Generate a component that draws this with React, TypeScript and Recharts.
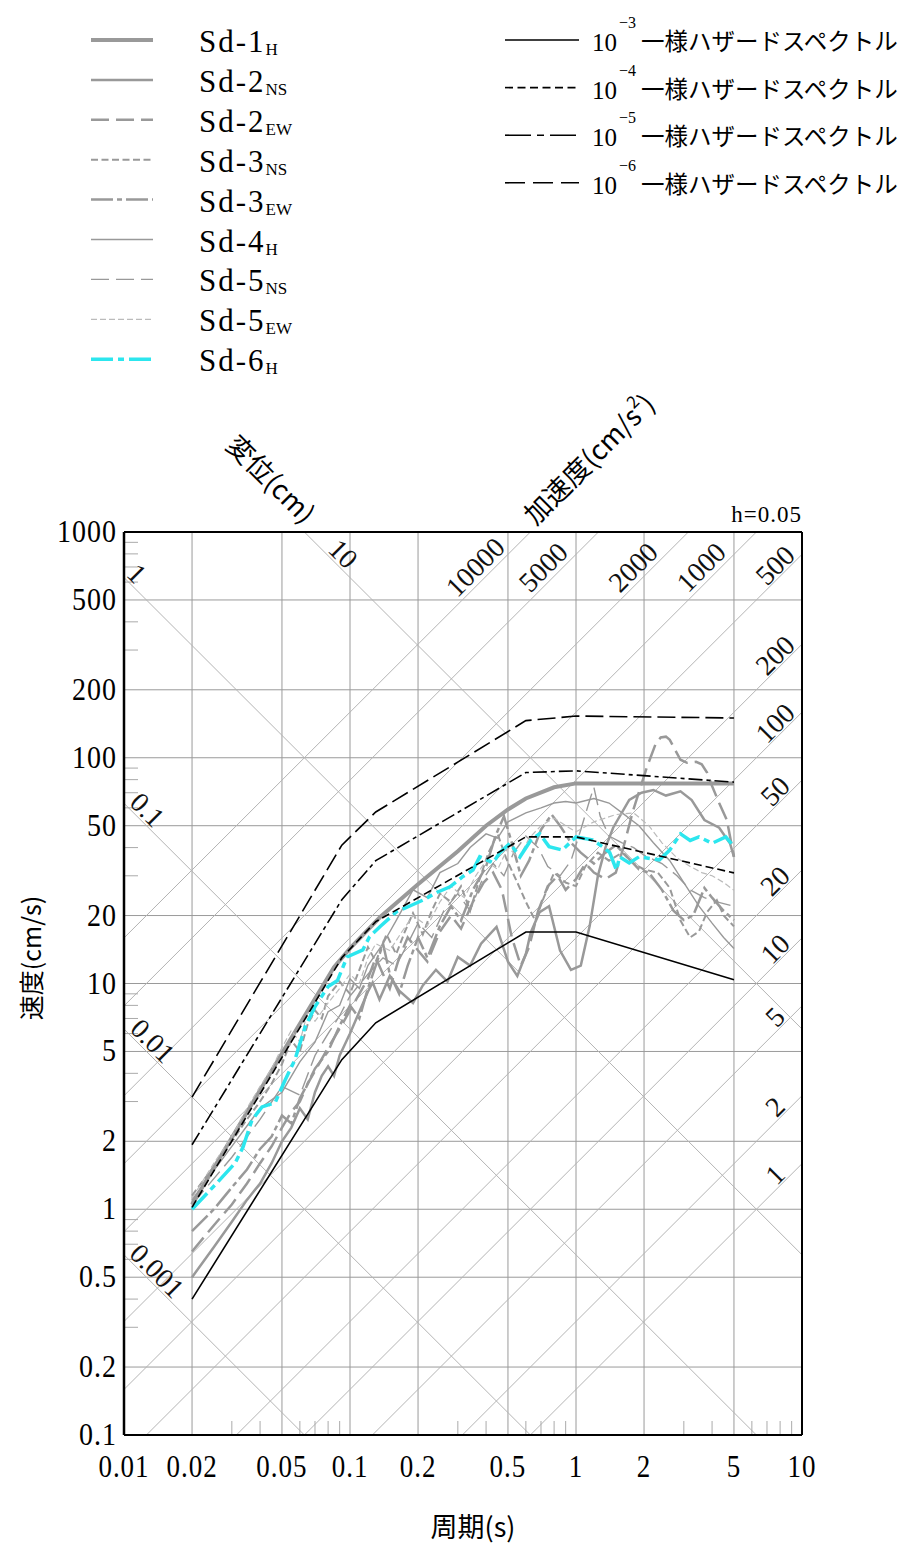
import React from 'react';
import { LineChart, Line, XAxis, YAxis, CartesianGrid, ReferenceLine, ReferenceDot, Legend } from 'recharts';

const W = 907;
const H = 1544;
const SERIF = '"Liberation Serif", "DejaVu Serif", serif';
const JP = '"Noto Sans CJK JP", sans-serif';
const TWO_PI = 2 * Math.PI;

// axes
const xTicks = [0.01, 0.02, 0.05, 0.1, 0.2, 0.5, 1, 2, 5, 10];
const yTicks = [0.1, 0.2, 0.5, 1, 2, 5, 10, 20, 50, 100, 200, 500, 1000];
const minorMantissa = [3, 4, 6, 7, 8, 9];
const xMinorDecades = [0.01, 0.1, 1];
const yMinorDecades = [0.1, 1, 10, 100];

// tripartite lines
const accelLines = [1, 2, 5, 10, 20, 50, 100, 200, 500, 1000, 2000, 5000, 10000];
const dispLines = [0.001, 0.01, 0.1, 1, 10];
const accelTopLabels = [10000, 5000, 2000, 1000];
const accelRightLabels = [500, 200, 100, 50, 20, 10, 5, 2, 1];
const dispLabelAt: [number, number][] = [[10, 0.0934], [1, 0.0114], [0.1, 0.0127], [0.01, 0.0134], [0.001, 0.014]];

// uniform hazard spectra
const uhsPeriods = [0.02, 0.092, 0.13, 0.6, 1.0, 5.0];
const uhs1e3 = [0.4, 4.6, 6.7, 16.9, 16.9, 10.4];
const uhs1e4 = [1.02, 13, 18.8, 44.6, 44.6, 30.9];
const uhs1e5 = [1.93, 23.5, 35, 86, 87.5, 78];
const uhs1e6 = [3.14, 41, 57.5, 146, 153, 150];

// Sd spectra  [period (s), velocity (cm/s)]
const sd1H: [number, number][] = [
  [0.02, 1.05], [0.05, 4.9], [0.085, 11.8], [0.1, 14.3], [0.136, 19.7], [0.2, 27.5], [0.3, 38.5],
  [0.4, 50], [0.5, 59], [0.6, 66], [0.8, 74], [1.0, 77], [2, 77], [5, 77],
];
const sd2NS: [number, number][] = [
  [0.02, 0.5], [0.025, 0.68], [0.03, 0.88], [0.035, 1.1], [0.04, 1.3], [0.045, 1.6], [0.05, 2.0],
  [0.055, 2.3], [0.06, 2.8], [0.065, 2.5], [0.07, 3.3], [0.075, 3.9], [0.08, 4.3], [0.085, 3.9],
  [0.09, 4.8], [0.1, 6.0], [0.11, 7.5], [0.12, 9.2], [0.126, 10.1], [0.135, 8.5], [0.15, 10.8],
  [0.165, 9.3], [0.19, 8.2], [0.21, 9.8], [0.24, 11.5], [0.27, 10.2], [0.3, 13.1], [0.34, 12.0],
  [0.38, 15.0], [0.445, 17.8], [0.5, 12.5], [0.55, 10.8], [0.6, 13.5], [0.63, 16.8], [0.69, 20.7],
  [0.76, 22], [0.85, 14], [0.95, 11.5], [1.05, 12], [1.15, 18], [1.25, 30], [1.35, 40],
  [1.46, 49], [1.72, 65], [1.95, 70], [2.2, 72], [2.5, 68], [2.9, 71], [3.25, 65], [3.7, 53],
  [4.3, 49], [4.8, 41.8], [5, 36.4],
];
const sd2EW: [number, number][] = [
  [0.02, 0.65], [0.025, 0.85], [0.03, 1.05], [0.035, 1.3], [0.04, 1.6], [0.045, 1.9], [0.05, 2.3],
  [0.055, 2.7], [0.06, 3.0], [0.065, 3.6], [0.07, 4.1], [0.08, 5.2], [0.09, 6.3], [0.1, 7.6],
  [0.11, 9], [0.12, 10.5], [0.13, 13], [0.14, 11], [0.15, 9.5], [0.165, 13], [0.18, 16], [0.2, 14],
  [0.22, 12.5], [0.25, 17], [0.28, 20], [0.31, 17.5], [0.35, 23], [0.39, 28], [0.43, 31], [0.47, 26],
  [0.52, 16], [0.57, 12], [0.62, 14.5], [0.68, 21], [0.75, 27], [0.83, 30], [0.9, 26], [1.0, 29],
  [1.1, 34], [1.2, 31], [1.35, 29], [1.5, 31], [1.62, 40], [1.79, 58.5], [2.06, 91], [2.25, 115],
  [2.37, 123], [2.5, 124], [2.6, 120], [2.75, 108], [2.9, 98], [3.1, 95], [3.4, 96], [3.6, 93.5],
  [3.8, 86], [4.0, 75], [4.3, 63], [4.65, 53], [5, 36.4],
];
const sd3NS: [number, number][] = [
  [0.02, 1.15], [0.025, 1.55], [0.03, 2.0], [0.035, 2.5], [0.04, 3.0], [0.045, 3.6], [0.05, 4.4],
  [0.055, 5.6], [0.06, 5.0], [0.065, 6.6], [0.07, 7.6], [0.075, 7.0], [0.08, 8.8], [0.09, 10.2],
  [0.1, 9.0], [0.11, 11.5], [0.12, 14.5], [0.13, 12.5], [0.145, 16.5], [0.16, 13.5], [0.175, 17],
  [0.19, 20.5], [0.21, 16.5], [0.23, 21], [0.25, 25], [0.28, 23], [0.31, 27], [0.34, 21], [0.37, 28],
  [0.41, 38], [0.45, 46], [0.49, 36], [0.55, 28], [0.6, 23], [0.66, 19], [0.72, 24], [0.8, 31],
  [0.9, 28], [1.0, 27], [1.1, 33], [1.25, 38], [1.4, 35], [1.6, 38], [1.8, 34], [2.0, 32], [2.3, 31],
  [2.6, 26.5], [2.9, 19], [3.2, 16], [3.5, 17], [3.8, 20.7], [4.2, 23.4], [4.5, 20], [5, 17.9],
];
const sd3EW: [number, number][] = [
  [0.02, 0.8], [0.025, 1.0], [0.03, 1.25], [0.035, 1.5], [0.04, 1.85], [0.045, 2.1], [0.05, 2.6],
  [0.055, 2.4], [0.06, 3.1], [0.065, 3.6], [0.07, 4.2], [0.08, 5.0], [0.09, 6.5], [0.1, 8],
  [0.11, 7], [0.12, 9.5], [0.13, 12], [0.14, 15], [0.15, 11], [0.165, 9], [0.18, 12], [0.2, 16],
  [0.22, 13], [0.25, 18], [0.28, 22], [0.31, 19], [0.35, 26], [0.4, 33], [0.44, 45], [0.48, 55],
  [0.52, 42], [0.57, 30], [0.62, 35], [0.7, 48], [0.78, 56], [0.85, 50], [0.95, 42], [1.05, 38],
  [1.2, 34], [1.35, 38], [1.5, 41], [1.7, 36], [1.9, 32], [2.1, 31], [2.4, 26], [2.7, 21], [3.0, 19.1],
  [3.3, 20], [3.7, 26.5], [4.0, 24], [4.5, 21], [5, 19.1],
];
const sd4H: [number, number][] = [
  [0.02, 1.1], [0.03, 1.9], [0.04, 2.8], [0.05, 3.3], [0.06, 4.5], [0.07, 5.5], [0.08, 7.5],
  [0.09, 8], [0.1, 10.5], [0.11, 9.5], [0.12, 12], [0.14, 15], [0.16, 19], [0.19, 26], [0.22, 24],
  [0.25, 31], [0.3, 34], [0.34, 40], [0.4, 46], [0.45, 44], [0.5, 52], [0.6, 57], [0.7, 60],
  [0.8, 63], [0.9, 64], [1.0, 63], [1.2, 66], [1.4, 63], [1.6, 57], [1.9, 50], [2.2, 42], [2.6, 35],
  [3.0, 28], [3.5, 22], [4.0, 18.5], [4.5, 16], [5, 14.3],
];
const sd5NS: [number, number][] = [
  [0.02, 1.05], [0.03, 1.7], [0.04, 2.5], [0.05, 3.5], [0.06, 3.2], [0.07, 4.8], [0.08, 6],
  [0.09, 7.2], [0.1, 8.8], [0.12, 11], [0.14, 13], [0.16, 12], [0.18, 15], [0.2, 18.5], [0.23, 16],
  [0.26, 21], [0.3, 25], [0.34, 21], [0.38, 28], [0.43, 34], [0.48, 30], [0.53, 38], [0.6, 45],
  [0.68, 40], [0.75, 33], [0.85, 30], [0.95, 35], [1.05, 48], [1.15, 65], [1.2, 74], [1.28, 55],
  [1.4, 45], [1.6, 42], [1.8, 40], [2.0, 37], [2.4, 34], [2.8, 30], [3.2, 26], [3.7, 24], [4.2, 23],
  [5, 22],
];
const sd5EW: [number, number][] = [
  [0.02, 1.12], [0.025, 1.6], [0.03, 2.1], [0.035, 2.8], [0.04, 3.5], [0.045, 4.2], [0.05, 5.2],
  [0.055, 6.2], [0.06, 5.5], [0.065, 7.5], [0.07, 6.8], [0.08, 8.2], [0.09, 9.5], [0.1, 11],
  [0.11, 10], [0.12, 13], [0.13, 15], [0.15, 14], [0.17, 17], [0.19, 20], [0.22, 18], [0.25, 23],
  [0.28, 27], [0.32, 24], [0.36, 30], [0.4, 35], [0.45, 32], [0.5, 40], [0.56, 36], [0.62, 44],
  [0.7, 50], [0.8, 54], [0.9, 50], [1.0, 47], [1.2, 52], [1.5, 56], [1.8, 57], [2.1, 50], [2.4, 42],
  [2.8, 36], [3.2, 33], [3.6, 31], [4.0, 30], [4.5, 28], [5, 25.9],
];
const sd6H: [number, number][] = [
  [0.02, 1.0], [0.026, 1.32], [0.031, 1.6], [0.0336, 1.88], [0.0368, 2.48], [0.0408, 2.84],
  [0.0466, 2.96], [0.0516, 3.73], [0.057, 4.58], [0.0632, 6.4], [0.07, 7.9], [0.08, 9.7],
  [0.088, 10.3], [0.097, 13.1], [0.114, 14.1], [0.122, 16.1], [0.136, 17.9], [0.161, 20.8],
  [0.185, 22.1], [0.21, 23.4], [0.242, 25.3], [0.277, 26.8], [0.316, 29.8], [0.35, 31.8],
  [0.375, 36.4], [0.403, 35.3], [0.43, 34.3], [0.46, 38], [0.51, 41.8], [0.565, 36.4], [0.63, 43],
  [0.69, 46.1], [0.76, 40.4], [0.87, 39], [1.0, 44.6], [1.18, 43.3], [1.31, 40.4], [1.41, 38],
  [1.51, 31.8], [1.56, 36.4], [1.72, 34.2], [1.9, 36.4], [2.34, 35.3], [2.6, 39], [2.9, 46],
  [3.2, 43], [3.5, 44.6], [4.0, 41.8], [4.6, 44.6], [5.0, 40.4],
];

const GRAY = '#999';
const sdSeries = [
  { name: 'Sd-1', sub: 'H', data: sd1H, color: GRAY, width: 4, dash: undefined },
  { name: 'Sd-2', sub: 'NS', data: sd2NS, color: GRAY, width: 2.5, dash: undefined },
  { name: 'Sd-2', sub: 'EW', data: sd2EW, color: GRAY, width: 2.5, dash: '18 7' },
  { name: 'Sd-3', sub: 'NS', data: sd3NS, color: GRAY, width: 2, dash: '7 3.5' },
  { name: 'Sd-3', sub: 'EW', data: sd3EW, color: GRAY, width: 2.5, dash: '22 4 5 4' },
  { name: 'Sd-4', sub: 'H', data: sd4H, color: GRAY, width: 1.4, dash: undefined },
  { name: 'Sd-5', sub: 'NS', data: sd5NS, color: GRAY, width: 1.4, dash: '18 7' },
  { name: 'Sd-5', sub: 'EW', data: sd5EW, color: '#bbb', width: 1.2, dash: '6 3' },
  { name: 'Sd-6', sub: 'H', data: sd6H, color: '#2ce6ee', width: 3.5, dash: '22 5 6 5' },
];
const uhsSeries = [
  { exp: '−3', vals: uhs1e3, dash: undefined, legendDash: undefined },
  { exp: '−4', vals: uhs1e4, dash: '8 4', legendDash: '8 4.5' },
  { exp: '−5', vals: uhs1e5, dash: '14 4 4 4', legendDash: '26 6 7 6' },
  { exp: '−6', vals: uhs1e6, dash: '18 6', legendDash: '20 8' },
];

const toPoints = (pairs: [number, number][]) => pairs.map(([t, v]) => ({ t, v }));
const uhsPoints = (vals: number[]) => uhsPeriods.map((t, i) => ({ t, v: vals[i] }));

const accelSegment = (a: number) => {
  const t1 = Math.max(0.01, (0.1 * TWO_PI) / a);
  const t2 = Math.min(10, (1000 * TWO_PI) / a);
  return [{ x: t1, y: (a * t1) / TWO_PI }, { x: t2, y: (a * t2) / TWO_PI }];
};
const dispSegment = (d: number) => {
  const t1 = Math.max(0.01, (TWO_PI * d) / 1000);
  const t2 = Math.min(10, (TWO_PI * d) / 0.1);
  return [{ x: t1, y: (TWO_PI * d) / t1 }, { x: t2, y: (TWO_PI * d) / t2 }];
};

// tall serif digits, a bit like the Mincho face of the original
const TallText = ({ x, y, anchor, size, children }: any) => (
  <text transform={`translate(${x} ${y}) scale(1 1.14)`} textAnchor={anchor} fontSize={size}
    fontFamily={SERIF} fill="#000" letterSpacing={1}>
    {children}
  </text>
);

const XTick = (p: any) => (
  <TallText x={p.x} y={1477} anchor="middle" size={27}>{String(p.payload.value)}</TallText>
);
const YTick = (p: any) => (
  <TallText x={117} y={p.y + 10} anchor="end" size={28}>{String(p.payload.value)}</TallText>
);

const DiagLabel = (p: any) => {
  const x = p.cx;
  const y = p.cy - p.offset;
  return (
    <text x={x} y={y} transform={`rotate(${p.angle} ${x} ${y})`} textAnchor="middle" dominantBaseline="central"
      fontSize={28} fontFamily={SERIF} fill="#111">
      {p.text}
    </text>
  );
};

const Overlay = () => (
  <svg width={W} height={H} style={{ position: 'absolute', left: 0, top: 0, pointerEvents: 'none' }}>
    {sdSeries.map((s, i) => {
      const y = 40 + i * 39.9;
      return (
        <g key={`sdl-${i}`}>
          <line x1={91} x2={153} y1={y} y2={y} stroke={s.color} strokeWidth={s.width} strokeDasharray={s.dash} />
          <text x={199} y={y + 12} fontSize={31} fontFamily={SERIF} letterSpacing={2}>
            {s.name}
            <tspan fontSize={17} dy={3} letterSpacing={0}>{s.sub}</tspan>
          </text>
        </g>
      );
    })}
    {uhsSeries.map((s, i) => {
      const y = 40 + i * 47.6;
      return (
        <g key={`uhl-${i}`}>
          <line x1={505} x2={579} y1={y} y2={y} stroke="#000" strokeWidth={1.6} strokeDasharray={s.legendDash} />
          <text x={592} y={y + 11} fontSize={25} fontFamily={SERIF}>10</text>
          <text x={619} y={y - 12} fontSize={16} fontFamily={SERIF}>{s.exp}</text>
          <text x={641} y={y + 10} fontSize={23.5} fontFamily={JP}>一様ハザードスペクトル</text>
        </g>
      );
    })}
    <text x={272} y={478} transform="rotate(45 272 478)" textAnchor="middle" dominantBaseline="central"
      fontSize={27} fontFamily={JP}>変位(cm)</text>
    <text x={588} y={458} transform="rotate(-45 588 458)" textAnchor="middle" dominantBaseline="central"
      fontSize={27} fontFamily={JP}>
      加速度(cm/s<tspan fontSize={17} dy={-10}>2</tspan><tspan dy={10}>)</tspan>
    </text>
    <text x={802} y={522} textAnchor="end" fontSize={23} fontFamily={SERIF} letterSpacing={1}>h=0.05</text>
    <text x={30} y={958} transform="rotate(-90 30 958)" textAnchor="middle" dominantBaseline="central"
      fontSize={25} fontFamily={JP}>速度(cm/s)</text>
    <text x={473} y={1537} textAnchor="middle" fontSize={27} fontFamily={JP}>周期(s)</text>
  </svg>
);

export default function App() {
  const yTickLen = Math.pow(10, 14 / 225.75);
  const xTickLen = Math.pow(10, 14 / 226);
  return (
    <div style={{ position: 'absolute', left: 0, top: 0, width: W, height: H, background: '#fff' }}>
      <LineChart width={W} height={H} margin={{ top: 532, right: 105, bottom: 49, left: 24 }}>
        <XAxis dataKey="t" type="number" scale="log" domain={[0.01, 10]} ticks={xTicks} interval={0}
          allowDataOverflow tickLine={false} axisLine={false} height={60} tick={XTick} />
        <YAxis type="number" scale="log" domain={[0.1, 1000]} ticks={yTicks} interval={0}
          allowDataOverflow tickLine={false} axisLine={false} width={100} tick={YTick} />
        <CartesianGrid stroke="#9a9a9a" strokeWidth={1} />
        {accelLines.map((a) => (
          <ReferenceLine key={`a-${a}`} segment={accelSegment(a)} stroke="#b4b4b4" strokeWidth={1} ifOverflow="visible" />
        ))}
        {dispLines.map((d) => (
          <ReferenceLine key={`d-${d}`} segment={dispSegment(d)} stroke="#b4b4b4" strokeWidth={1} ifOverflow="visible" />
        ))}
        {yMinorDecades.flatMap((dec) => minorMantissa.map((m) => (
          <ReferenceLine key={`ym-${dec}-${m}`} segment={[{ x: 0.01, y: dec * m }, { x: 0.01 * xTickLen, y: dec * m }]}
            stroke="#aaa" strokeWidth={1} ifOverflow="visible" />
        )))}
        {xMinorDecades.flatMap((dec) => minorMantissa.map((m) => (
          <ReferenceLine key={`xm-${dec}-${m}`} segment={[{ x: dec * m, y: 0.1 }, { x: dec * m, y: 0.1 * yTickLen }]}
            stroke="#aaa" strokeWidth={1} ifOverflow="visible" />
        )))}
        {accelTopLabels.map((a) => (
          <ReferenceDot key={`atl-${a}`} x={(TWO_PI * 570) / a} y={570} r={0} ifOverflow="visible"
            shape={(p: any) => <DiagLabel {...p} text={String(a)} angle={-45} offset={20} />} />
        ))}
        {accelRightLabels.map((a) => (
          <ReferenceDot key={`arl-${a}`} x={7.6} y={(a * 7.6) / TWO_PI} r={0} ifOverflow="visible"
            shape={(p: any) => <DiagLabel {...p} text={String(a)} angle={-45} offset={16} />} />
        ))}
        {dispLabelAt.map(([d, t]) => (
          <ReferenceDot key={`dl-${d}`} x={t} y={(TWO_PI * d) / t} r={0} ifOverflow="visible"
            shape={(p: any) => <DiagLabel {...p} text={String(d)} angle={45} offset={17} />} />
        ))}
        {sdSeries.map((s, i) => (
          <Line key={`sd-${i}`} data={toPoints(s.data)} dataKey="v" type="linear" dot={false}
            stroke={s.color} strokeWidth={s.width} strokeDasharray={s.dash} isAnimationActive={false} />
        ))}
        {uhsSeries.map((s, i) => (
          <Line key={`uhs-${i}`} data={uhsPoints(s.vals)} dataKey="v" type="linear" dot={false}
            stroke="#000" strokeWidth={1.6} strokeDasharray={s.dash} isAnimationActive={false} />
        ))}
        <ReferenceLine x={0.01} stroke="#000" strokeWidth={2.5} ifOverflow="visible" />
        <ReferenceLine x={10} stroke="#000" strokeWidth={2} ifOverflow="visible" />
        <ReferenceLine y={0.1} stroke="#000" strokeWidth={2} ifOverflow="visible" />
        <ReferenceLine y={1000} stroke="#000" strokeWidth={2} ifOverflow="visible" />
        <Legend layout="horizontal" verticalAlign="middle" align="center" content={() => <Overlay />}
          wrapperStyle={{ position: 'absolute', left: 0, top: 0, width: W, height: H, margin: 0, pointerEvents: 'none' }} />
      </LineChart>
    </div>
  );
}
